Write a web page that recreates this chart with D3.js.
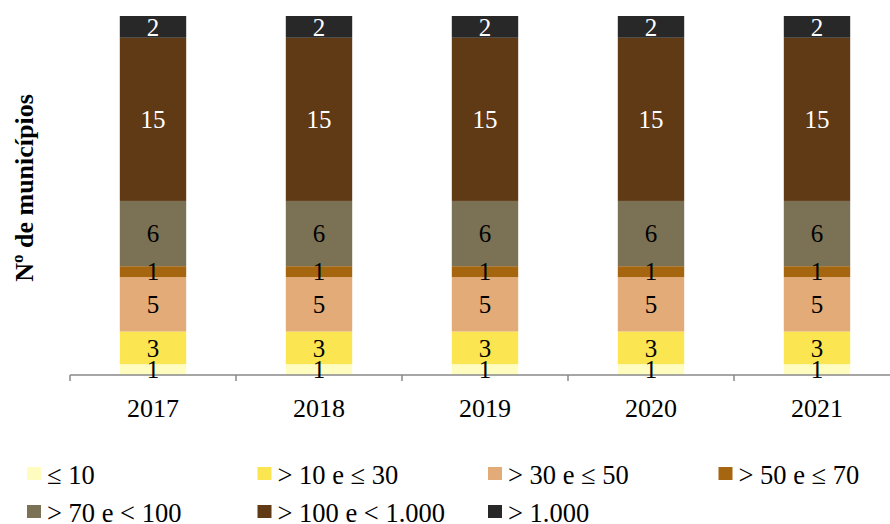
<!DOCTYPE html>
<html>
<head>
<meta charset="utf-8">
<script src="https://cdn.jsdelivr.net/npm/d3@7"></script>
<style>
  body { margin: 0; background: #fff; }
</style>
</head>
<body>
<div id="chart"></div>
<script>
var years = ["2017", "2018", "2019", "2020", "2021"];
var classes = ["≤ 10", "> 10 e ≤ 30", "> 30 e ≤ 50", "> 50 e ≤ 70", "> 70 e < 100", "> 100 e < 1.000", "> 1.000"];
var colors = ["#fffcc0", "#fbe550", "#e2ab77", "#a5660f", "#7b7154", "#603915", "#282828"];
var labelColors = ["#000", "#000", "#000", "#000", "#000", "#fff", "#fff"];
var counts = [
    [1, 3, 5, 1, 6, 15, 2],
    [1, 3, 5, 1, 6, 15, 2],
    [1, 3, 5, 1, 6, 15, 2],
    [1, 3, 5, 1, 6, 15, 2],
    [1, 3, 5, 1, 6, 15, 2]
];

var FONT = "'Liberation Serif', 'Times New Roman', Times, serif";
var width = 890, height = 524;
var svg = d3.select("#chart").append("svg")
    .attr("width", width)
    .attr("height", height)
    .attr("font-family", FONT);

var xScale = d3.scaleBand().domain(years).range([70, 900])
    .paddingInner(0.6).paddingOuter(0.3);
var yScale = d3.scaleLinear().domain([0, 33]).range([375, 16]);

// stacked data
var rows = years.map(function(y, i) {
    var r = {year: y};
    classes.forEach(function(c, j) { r[c] = counts[i][j]; });
    return r;
});
var series = d3.stack().keys(classes)(rows);

var bars = svg.append("g");
bars.selectAll("g")
    .data(series)
    .enter()
    .append("g")
    .attr("fill", (d, i) => colors[i])
    .selectAll("rect")
    .data(d => d)
    .enter()
    .append("rect")
    .attr("x", d => xScale(d.data.year))
    .attr("width", xScale.bandwidth())
    .attr("y", d => yScale(d[1]))
    .attr("height", d => yScale(d[0]) - yScale(d[1]));

// x axis
var step = xScale.step();
var axis = svg.append("g").attr("transform", "translate(0,375)");
axis.append("line")
    .attr("x1", 70).attr("x2", 890)
    .attr("stroke", "#888").attr("stroke-width", 1.5);
axis.selectAll("line.tick")
    .data(d3.range(years.length + 1))
    .enter()
    .append("line")
    .attr("class", "tick")
    .attr("x1", i => 70 + i * step).attr("x2", i => 70 + i * step)
    .attr("y1", 0).attr("y2", 6)
    .attr("stroke", "#888").attr("stroke-width", 1.5);
axis.selectAll("text")
    .data(years)
    .enter()
    .append("text")
    .attr("x", d => xScale(d) + xScale.bandwidth() / 2)
    .attr("y", 42)
    .attr("text-anchor", "middle")
    .style("font-size", "26px")
    .text(d => d);

// value labels, drawn on top of every bar
var labels = svg.append("g");
series.forEach(function(s, i) {
    labels.selectAll("text.l" + i)
        .data(s)
        .enter()
        .append("text")
        .attr("class", "l" + i)
        .attr("x", d => xScale(d.data.year) + xScale.bandwidth() / 2)
        .attr("y", d => (yScale(d[0]) + yScale(d[1])) / 2)
        .attr("dy", "0.35em")
        .attr("text-anchor", "middle")
        .style("font-size", "25px")
        .style("fill", labelColors[i])
        .text(d => d[1] - d[0]);
});

// y title
svg.append("text")
    .attr("transform", "translate(33,188) rotate(-90)")
    .attr("text-anchor", "middle")
    .style("font-size", "26px")
    .style("font-weight", "bold")
    .text("Nº de municípios");

// legend
var legend = svg.selectAll("g.legend")
    .data(classes)
    .enter()
    .append("g")
    .attr("class", "legend")
    .attr("transform", (d, i) => "translate(" + (27 + (i % 4) * 230.5) + "," + (484 + Math.floor(i / 4) * 38) + ")");
legend.append("rect")
    .attr("x", 0).attr("y", -17)
    .attr("width", 14).attr("height", 13)
    .attr("fill", (d, i) => colors[i]);
legend.append("text")
    .attr("x", 20).attr("y", 0)
    .style("font-size", "26.5px")
    .text(d => d);
</script>
</body>
</html>
